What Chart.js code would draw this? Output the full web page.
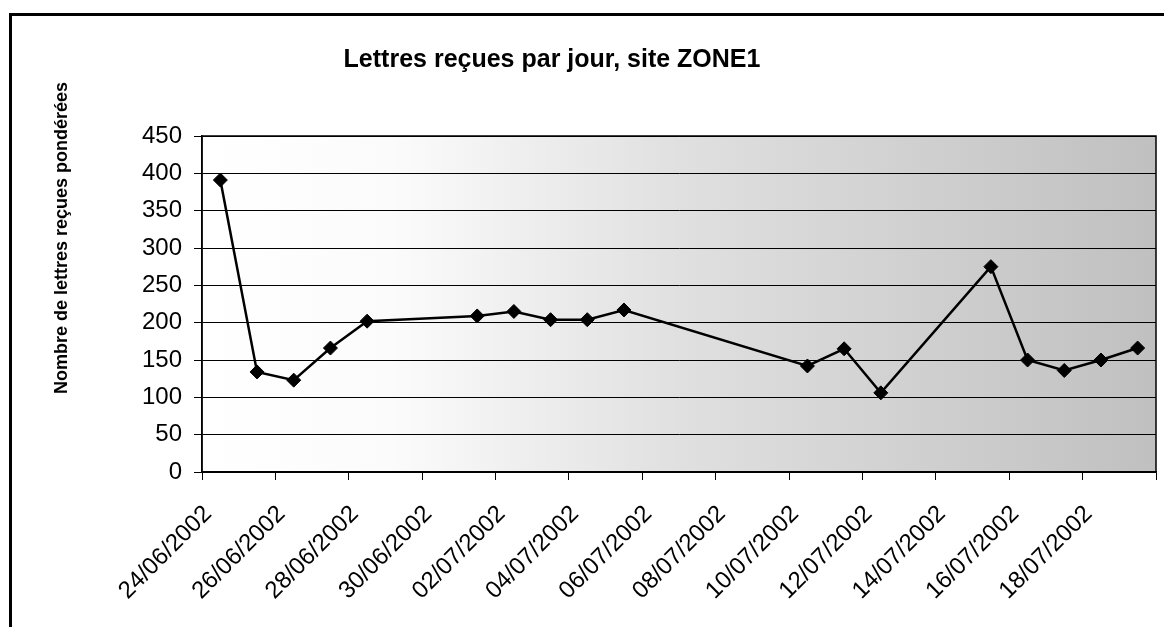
<!DOCTYPE html>
<html>
<head>
<meta charset="utf-8">
<script src="https://cdn.jsdelivr.net/npm/chart.js@4.4.1/dist/chart.umd.min.js"></script>
<style>
    html, body { margin: 0; padding: 0; background: #fff; overflow: hidden; }
    canvas { position: absolute; left: 0; top: 0; }
    #frame {
        position: absolute; left: 9px; top: 13px; width: 1300px; height: 800px;
        border-left: 3px solid #000; border-top: 3px solid #000; pointer-events: none;
    }
</style>
</head>
<body>
<canvas id="lettresChart" width="1164" height="627"></canvas>
<div id="frame"></div>
<script>
const chartTitle = 'Lettres reçues par jour, site ZONE1';
const yAxisTitle = 'Nombre de lettres reçues pondérées';

// axe des dates : du 24/06 au 20/07, une graduation tous les 2 jours
const firstDay = '24/06/2002';
const lastDay = '20/07/2002';
const tickDates = ['24/06/2002', '26/06/2002', '28/06/2002', '30/06/2002', '02/07/2002', '04/07/2002',
    '06/07/2002', '08/07/2002', '10/07/2002', '12/07/2002', '14/07/2002', '16/07/2002', '18/07/2002'];

const dates = ['24/06/2002', '25/06/2002', '26/06/2002', '27/06/2002', '28/06/2002',
    '01/07/2002', '02/07/2002', '03/07/2002', '04/07/2002', '05/07/2002',
    '10/07/2002', '11/07/2002', '12/07/2002',
    '15/07/2002', '16/07/2002', '17/07/2002', '18/07/2002', '19/07/2002'];
const lettres = [391, 134, 123, 166, 202,
    209, 215, 204, 204, 217,
    142, 165, 106,
    275, 150, 136, 150, 166];

function dayOffset(str) {
    const [d, m, y] = str.split('/').map(Number);
    const [d0, m0, y0] = firstDay.split('/').map(Number);
    return (Date.UTC(y, m - 1, d) - Date.UTC(y0, m0 - 1, d0)) / 86400000;
}

// points placés au milieu de chaque jour, comme Excel
const points = dates.map((date, i) => ({ x: dayOffset(date) + 0.5, y: lettres[i] }));

const decorPlugin = {
    id: 'decor',
    beforeDraw(chart) {
        const { ctx, chartArea: a } = chart;
        const grad = ctx.createLinearGradient(a.left, 0, a.right, 0);
        grad.addColorStop(0, '#ffffff');
        grad.addColorStop(0.2, '#fbfbfb');
        grad.addColorStop(0.5, '#e0e0e0');
        grad.addColorStop(1, '#c0c0c0');
        ctx.save();
        ctx.fillStyle = grad;
        ctx.fillRect(a.left, a.top, a.right - a.left, a.bottom - a.top);
        ctx.restore();
    },
    afterDraw(chart) {
        const { ctx, chartArea: a } = chart;
        ctx.save();
        ctx.strokeStyle = '#000';
        ctx.lineWidth = 1.5;
        ctx.strokeRect(a.left, a.top, a.right - a.left, a.bottom - a.top);

        ctx.fillStyle = '#000';
        ctx.font = 'bold 25px "Liberation Sans", Arial, sans-serif';
        ctx.textAlign = 'center';
        ctx.textBaseline = 'alphabetic';
        ctx.fillText(chartTitle, 552, 67);

        ctx.font = 'bold 18px "Liberation Sans", Arial, sans-serif';
        ctx.translate(67, 238);
        ctx.rotate(-Math.PI / 2);
        ctx.fillText(yAxisTitle, 0, 0);
        ctx.restore();
    }
};

const lettresChart = new Chart(document.querySelector('#lettresChart'), {
    type: 'line',
    data: {
        datasets: [{
            data: points,
            borderColor: '#000',
            borderWidth: 2.5,
            tension: 0,
            pointStyle: 'rectRot',
            pointRadius: 7,
            pointBackgroundColor: '#000',
            pointBorderColor: '#000',
            pointBorderWidth: 1
        }]
    },
    options: {
        responsive: false,
        animation: false,
        layout: { padding: { top: 136, right: 6, left: 0, bottom: 0 } },
        plugins: {
            legend: { display: false },
            tooltip: { enabled: false },
            title: { display: false }
        },
        scales: {
            x: {
                type: 'linear',
                min: 0,
                max: dayOffset(lastDay),
                afterFit: function (scale) {
                    scale.height = 155;
                    scale.paddingLeft = 0;
                    scale.paddingRight = 0;
                },
                ticks: {
                    stepSize: 2,
                    autoSkip: false,
                    minRotation: 45,
                    maxRotation: 45,
                    color: '#000',
                    padding: 20,
                    labelOffset: 6,
                    font: { family: '"Liberation Sans", Arial, sans-serif', size: 24 },
                    callback: function (value, index) {
                        return tickDates[index] || '';
                    }
                },
                grid: { drawOnChartArea: false, drawTicks: true, tickLength: 8, color: '#000' },
                border: { color: '#000', width: 1.5 }
            },
            y: {
                min: 0,
                max: 450,
                afterFit: function (scale) { scale.width = 202; },
                ticks: {
                    stepSize: 50,
                    color: '#000',
                    padding: 12,
                    font: { family: '"Liberation Sans", Arial, sans-serif', size: 24 }
                },
                grid: { color: '#000', lineWidth: 1, tickLength: 8, tickColor: '#000' },
                border: { color: '#000', width: 1.5 }
            }
        }
    },
    plugins: [decorPlugin]
});
</script>
</body>
</html>
